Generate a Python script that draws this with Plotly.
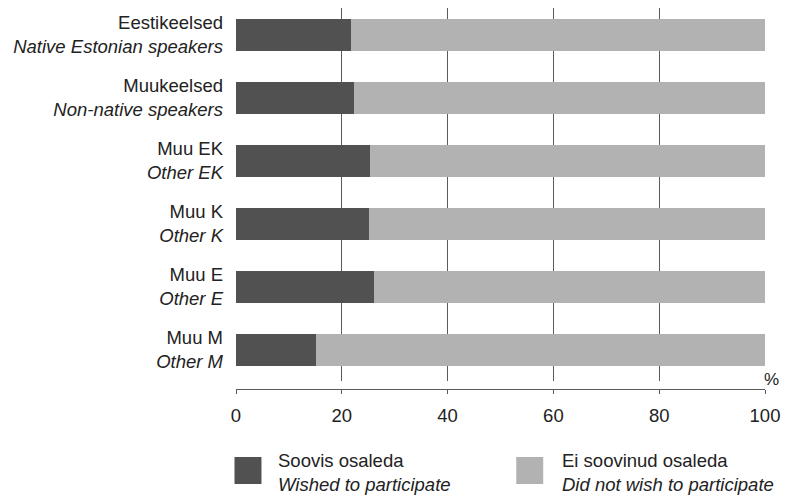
import plotly.graph_objects as go

categories_et = ["Eestikeelsed", "Muukeelsed", "Muu EK", "Muu K", "Muu E", "Muu M"]
categories_en = ["Native Estonian speakers", "Non-native speakers", "Other EK", "Other K", "Other E", "Other M"]
wished = [21.7, 22.3, 25.3, 25.1, 26.1, 15.1]
not_wished = [round(100 - v, 1) for v in wished]
x_ticks = [0, 20, 40, 60, 80, 100]
unit_label = "%"

legend_et = ["Soovis osaleda", "Ei soovinud osaleda"]
legend_en = ["Wished to participate", "Did not wish to participate"]

DARK = "#515151"
LIGHT = "#b2b2b2"
GRID = "#5a5a5a"
TEXT = "#222222"
FONT = "Arial, Liberation Sans, sans-serif"
FS = 18.5

labels = [f"{a}<br><i>{b}</i>" for a, b in zip(categories_et, categories_en)]

fig = go.Figure()
fig.add_trace(go.Bar(y=labels, x=wished, orientation="h", marker=dict(color=DARK, line_width=0),
                     name=legend_et[0], showlegend=False))
fig.add_trace(go.Bar(y=labels, x=not_wished, orientation="h", marker=dict(color=LIGHT, line_width=0),
                     name=legend_et[1], showlegend=False))
# invisible trace to carry the offset x axis
fig.add_trace(go.Scatter(x=[0, 100], y=[labels[0], labels[0]], xaxis="x2", mode="markers",
                         marker=dict(opacity=0), showlegend=False, hoverinfo="skip"))

# page body margin offsets the figure by 8px; work in page pixels and subtract it
OFF = 8
W, H = 789 - OFF, 496 - OFF
left, right, top, plot_bottom, axis_y = 235.5 - OFF, 765 - OFF, 0, 381 - OFF, 389 - OFF
paper_h = axis_y - top
paper_w = right - left
band = 63.0
# the reference plot area begins ~4.5px above the figure's top edge
y_top_val = -0.5 + 4.5 / band

def px_x(p):
    return (p - OFF - left) / paper_w

def px_y(p):
    return (axis_y - (p - OFF)) / paper_h

fig.update_layout(
    width=W, height=H,
    margin=dict(l=left, r=W - right, t=top, b=H - axis_y, pad=0),
    plot_bgcolor="white", paper_bgcolor="white",
    barmode="stack", bargap=0.49,
    font=dict(family=FONT, size=FS, color=TEXT),
    xaxis=dict(range=[0, 100], tickvals=x_ticks, showgrid=True, gridcolor=GRID, gridwidth=1,
               zeroline=False, showline=False, showticklabels=False, ticks="", fixedrange=True),
    xaxis2=dict(range=[0, 100], tickvals=x_ticks, overlaying="x", anchor="free", position=0,
                side="bottom", showgrid=False, zeroline=False, showline=True, linecolor=GRID,
                linewidth=1, ticks="outside", ticklen=4, tickcolor=GRID, tickwidth=1,
                tickfont=dict(size=FS, color=TEXT), ticklabelstandoff=6),
    yaxis=dict(domain=[(axis_y - plot_bottom) / paper_h, 1], range=[5.5, y_top_val],
               showgrid=False, zeroline=False, showline=False, ticks="",
               ticklabelstandoff=12, tickfont=dict(size=FS, color=TEXT)),
)

# "%" unit label (kept inside the visible area)
fig.add_annotation(x=px_x(780), y=px_y(379), xref="paper", yref="paper",
                   text=unit_label, showarrow=False, xanchor="right", yanchor="middle",
                   borderpad=0, font=dict(family=FONT, size=17, color=TEXT))

# custom legend
legend_items = [(234, 278, DARK), (516, 562, LIGHT)]
for (sq_x, tx, col), et, en in zip(legend_items, legend_et, legend_en):
    fig.add_shape(type="rect", xref="paper", yref="paper",
                  x0=px_x(sq_x), x1=px_x(sq_x + 27), y0=px_y(484), y1=px_y(457),
                  fillcolor=col, line_width=0)
    fig.add_annotation(x=px_x(tx - 2), y=px_y(472), xref="paper", yref="paper",
                       text=f"{et}<br><i>{en}</i>", showarrow=False, align="left",
                       xanchor="left", yanchor="middle", font=dict(size=FS, color=TEXT))

fig.write_html("out.html")
